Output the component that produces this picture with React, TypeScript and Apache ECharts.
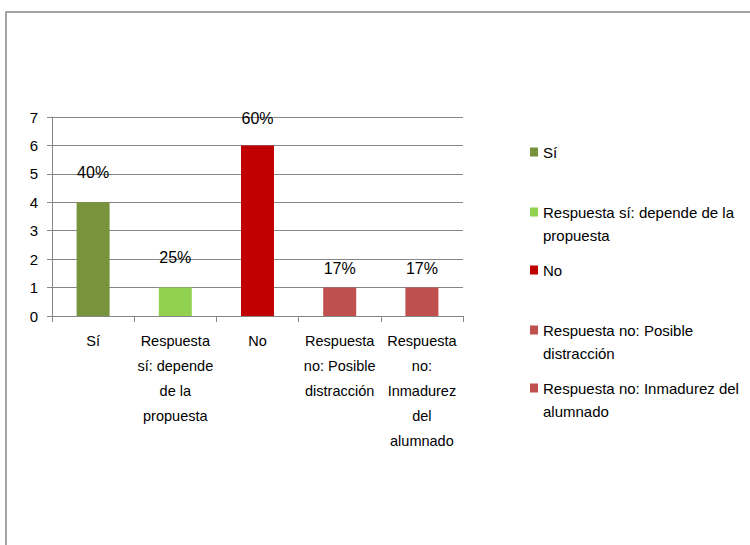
import React, { useEffect, useRef } from "react";
import * as echarts from "echarts";

const categories = [
  "Sí",
  "Respuesta sí: depende de la propuesta",
  "No",
  "Respuesta no: Posible distracción",
  "Respuesta no: Inmadurez del alumnado",
];
const categoryLabels = [
  "Sí",
  "Respuesta\nsí: depende\nde la\npropuesta",
  "No",
  "Respuesta\nno: Posible\ndistracción",
  "Respuesta\nno:\nInmadurez\ndel\nalumnado",
];
const counts = [4, 1, 6, 1, 1];
const percentLabels = ["40%", "25%", "60%", "17%", "17%"];
const legendLabels = [
  "Sí",
  "Respuesta sí: depende de la\npropuesta",
  "No",
  "Respuesta no: Posible\ndistracción",
  "Respuesta no: Inmadurez del\nalumnado",
];
const yTicks = [0, 1, 2, 3, 4, 5, 6, 7];

const colors = ["#77933C", "#92D050", "#C00000", "#C0504D", "#C0504D"];
const labelDistances = [22, 22, 19, 11, 11];
const legendIconCenters = [152, 212, 270, 330, 388];
const FONT = "'Liberation Sans', Arial, sans-serif";
const GRAY = "#868686";
const LH = 23;

export default function App() {
  const ref = useRef<HTMLDivElement>(null);
  useEffect(() => {
    if (!ref.current) return;
    const chart = echarts.init(ref.current, null, { renderer: "svg" });
    const legends = categories.map((name, i) => {
      const twoLine = legendLabels[i].includes("\n");
      // two-line items get a blank leading line so the first line sits level with the icon
      const text = twoLine ? "\n" + legendLabels[i] : legendLabels[i];
      const top = twoLine ? legendIconCenters[i] - 1.5 * LH : legendIconCenters[i] - LH / 2;
      return {
        data: [name],
        left: 530,
        top,
        padding: 0,
        itemWidth: 8,
        itemHeight: 9,
        itemGap: 0,
        selectedMode: false,
        icon: "rect",
        formatter: () => text,
        textStyle: {
          fontFamily: FONT,
          fontSize: 15,
          color: "#000",
          lineHeight: LH,
        },
      };
    });
    chart.setOption({
      animation: false,
      backgroundColor: "#fff",
      graphic: [
        {
          type: "rect",
          shape: { x: 6, y: 12, width: 900, height: 700 },
          style: { fill: "none", stroke: GRAY, lineWidth: 1.5 },
          silent: true,
        },
      ],
      legend: legends,
      grid: { left: 52, right: 287, top: 117, bottom: 229, containLabel: false },
      xAxis: {
        type: "category",
        data: categories,
        axisLine: { show: true, lineStyle: { color: GRAY, width: 1 } },
        axisTick: { show: true, length: 6, alignWithLabel: false, lineStyle: { color: GRAY } },
        axisLabel: {
          interval: 0,
          margin: 12,
          fontFamily: FONT,
          fontSize: 14.5,
          color: "#000",
          lineHeight: 25,
          align: "center",
          formatter: (_v: string, idx: number) => categoryLabels[idx],
        },
      },
      yAxis: {
        type: "value",
        min: yTicks[0],
        max: yTicks[yTicks.length - 1],
        interval: 1,
        axisLine: { show: true, lineStyle: { color: GRAY, width: 1 } },
        axisTick: { show: true, length: 5, lineStyle: { color: GRAY } },
        splitLine: { show: true, lineStyle: { color: GRAY, width: 1 } },
        axisLabel: { margin: 14, fontFamily: FONT, fontSize: 15, color: "#000" },
      },
      series: categories.map((name, i) => ({
        type: "bar",
        name,
        stack: "total",
        barWidth: 33,
        data: counts.map((v, j) => (j === i ? v : "-")),
        itemStyle: { color: colors[i] },
        label: {
          show: true,
          position: "top",
          distance: labelDistances[i],
          formatter: () => percentLabels[i],
          fontFamily: FONT,
          fontSize: 16,
          color: "#000",
        },
      })),
    });
    return () => chart.dispose();
  }, []);
  return (
    <div
      ref={ref}
      style={{ position: "fixed", left: 0, top: 0, width: 750, height: 545 }}
    />
  );
}
